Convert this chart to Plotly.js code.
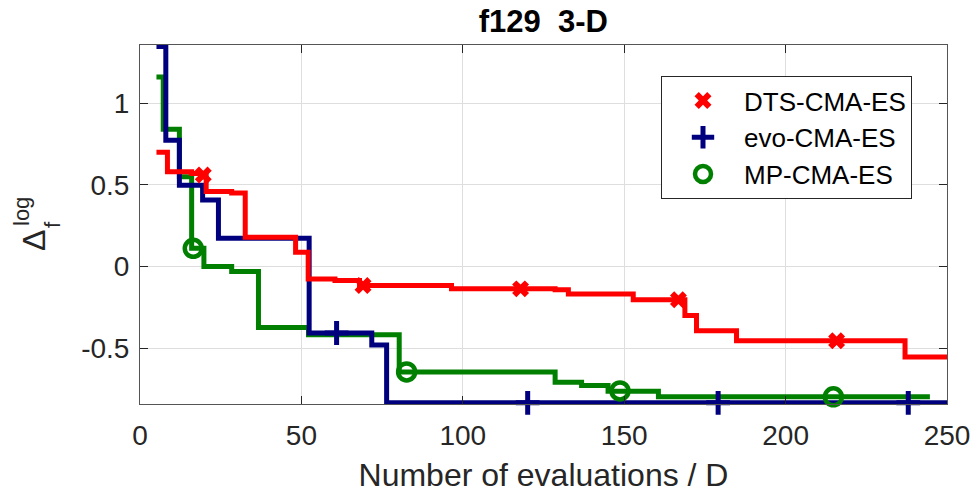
<!DOCTYPE html>
<html>
<head>
<meta charset="utf-8">
<script src="https://cdn.plot.ly/plotly-3.0.1.min.js"></script>
<style>html,body{margin:0;padding:0;background:#fff;}#chart{width:972px;height:501px;}</style>
</head>
<body>
<div id="chart"></div>
<script>
// DTS-CMA-ES
const dtsX = [5.1, 8.5, 16, 20.5, 28.4, 32.6, 48.2, 52.1, 60.4, 68, 96.5, 128.6, 132.7, 152.8, 168.8, 172.4, 184.8, 237, 250];
const dtsY = [0.70, 0.58, 0.57, 0.46, 0.45, 0.18, 0.088, -0.075, -0.085, -0.115, -0.136, -0.142, -0.168, -0.203, -0.299, -0.392, -0.453, -0.553, -0.553];
const dtsMarkX = [19.6, 69.1, 117.9, 166.8, 215.8];
const dtsMarkY = [0.56, -0.115, -0.136, -0.203, -0.453];
// evo-CMA-ES
const evoX = [5.1, 8.0, 12.2, 19.4, 24.3, 52.4, 71.8, 76.4, 250];
const evoY = [1.346, 0.773, 0.498, 0.407, 0.173, -0.406, -0.48, -0.833, -0.833];
const evoMarkX = [60.9, 120.1, 179.1, 238.0];
const evoMarkY = [-0.406, -0.833, -0.833, -0.833];
// MP-CMA-ES
const mpX = [5.1, 7.2, 12.2, 16.0, 19.8, 28.4, 36.7, 52.2, 80.3, 128.6, 136.8, 145, 160.6, 244.7];
const mpY = [1.159, 0.84, 0.549, 0.112, 0.0, -0.03, -0.372, -0.416, -0.644, -0.707, -0.727, -0.762, -0.796, -0.796];
const mpMarkX = [16.5, 82.6, 148.7, 214.8];
const mpMarkY = [0.112, -0.644, -0.76, -0.796];

const names = ['DTS-CMA-ES', 'evo-CMA-ES', 'MP-CMA-ES'];
const xTicks = [0, 50, 100, 150, 200, 250];
const yTicks = [-0.5, 0, 0.5, 1];
const titleText = 'f129\u00a0\u00a03-D';
const xTitle = 'Number of evaluations / D';
const yTitleMain = 'Δ', yTitleSup = 'log', yTitleSub = 'f';

const RED = '#ff0000', BLUE = '#00007f', GREEN = '#007f00';
const FONT = 'Liberation Sans, Arial, sans-serif';

const traces = [
  {x: mpX, y: mpY, mode: 'lines', line: {color: GREEN, width: 5, shape: 'hv'}, showlegend: false, hoverinfo: 'skip'},
  {x: evoX, y: evoY, mode: 'lines', line: {color: BLUE, width: 5, shape: 'hv'}, showlegend: false, hoverinfo: 'skip'},
  {x: dtsX, y: dtsY, mode: 'lines', line: {color: RED, width: 5, shape: 'hv'}, showlegend: false, hoverinfo: 'skip'},
  {x: dtsMarkX, y: dtsMarkY, mode: 'markers', name: names[0], cliponaxis: false, legendgroup: 'a',
   marker: {symbol: 'x', size: 15, color: RED, line: {width: 0}}},
  {x: evoMarkX, y: evoMarkY, mode: 'markers', name: names[1], cliponaxis: false, legendgroup: 'b',
   marker: {symbol: 'cross-thin', size: 17, color: BLUE, line: {width: 5, color: BLUE}}},
  {x: mpMarkX, y: mpMarkY, mode: 'markers', name: names[2], cliponaxis: false, legendgroup: 'c',
   marker: {symbol: 'circle-open', size: 17, color: GREEN, line: {width: 4.5, color: GREEN}}}
];

const axisCommon = {
  showline: true, mirror: 'ticks', linecolor: '#555555', linewidth: 1,
  ticks: 'inside', ticklen: 8, tickcolor: '#262626', tickwidth: 1,
  showgrid: true, gridcolor: '#dedede', gridwidth: 1, zeroline: false,
  tickfont: {family: FONT, size: 28, color: '#262626'}
};

function px2x(px) { return (px - 140) / 807; }
function px2y(py) { return 1 - (py - 45) / 359; }

const layout = {
  width: 972, height: 501,
  margin: {l: 140, r: 25, t: 45, b: 97},
  paper_bgcolor: '#fff', plot_bgcolor: '#fff',
  title: {text: '<b>' + titleText + '</b>', x: 0.559, xanchor: 'center', y: 0.958, yanchor: 'middle',
          font: {family: FONT, size: 31, color: '#000'}},
  xaxis: Object.assign({}, axisCommon, {
    range: [0, 250], tickvals: xTicks, ticktext: xTicks.map(String), ticklabelstandoff: 6,
    title: {text: xTitle, standoff: 14, font: {family: FONT, size: 32, color: '#262626'}}
  }),
  yaxis: Object.assign({}, axisCommon, {
    range: [-0.84, 1.355], tickvals: yTicks, ticktext: yTicks.map(String), ticklabelstandoff: 4
  }),
  annotations: [
    {text: yTitleMain, xref: 'paper', yref: 'paper', x: px2x(34), y: px2y(241), xanchor: 'center', yanchor: 'middle',
     textangle: -90, showarrow: false, font: {family: FONT, size: 32, color: '#262626'}},
    {text: yTitleSup, xref: 'paper', yref: 'paper', x: px2x(21), y: px2y(212), xanchor: 'center', yanchor: 'middle',
     textangle: -90, showarrow: false, font: {family: FONT, size: 22, color: '#262626'}},
    {text: yTitleSub, xref: 'paper', yref: 'paper', x: px2x(52), y: px2y(225), xanchor: 'center', yanchor: 'middle',
     textangle: -90, showarrow: false, font: {family: FONT, size: 22, color: '#262626'}}
  ],
  legend: {x: px2x(661), y: px2y(76), xanchor: 'left', yanchor: 'top',
           bgcolor: '#fff', bordercolor: '#262626', borderwidth: 1,
           font: {family: FONT, size: 26, color: '#000'},
           itemwidth: 72, tracegroupgap: 0, traceorder: 'normal'}
};

Plotly.newPlot('chart', traces, layout, {displayModeBar: false, staticPlot: true});
</script>
</body>
</html>
